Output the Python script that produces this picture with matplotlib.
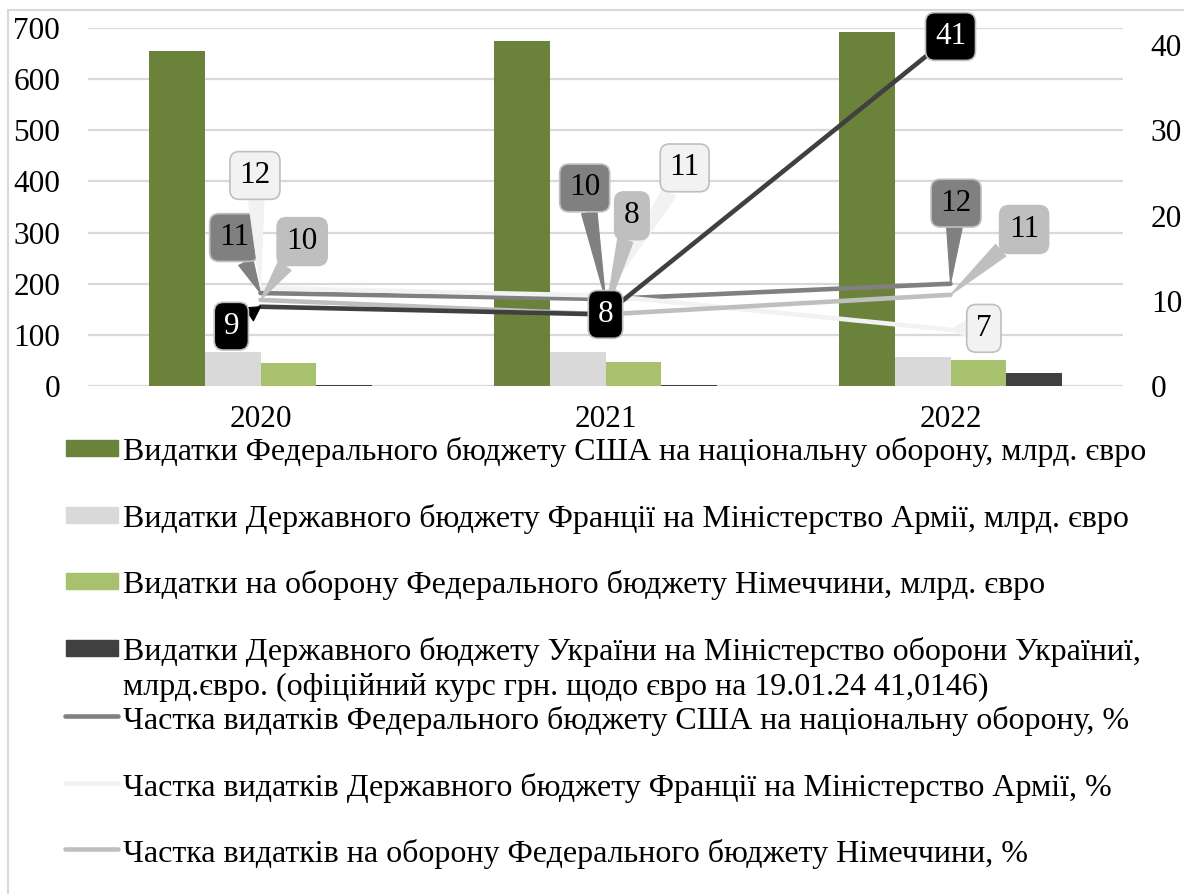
import numpy as np
import matplotlib
matplotlib.use("Agg")
import matplotlib.pyplot as plt
from matplotlib.patches import Rectangle
from matplotlib.lines import Line2D

plt.rcParams['font.family'] = ['Liberation Serif', 'DejaVu Serif']

W, H, DPI = 1184, 894, 100
FS = 22.5
LEG_FS = 23

years = ['2020', '2021', '2022']

# expenditures, bn euro (left axis)
usa_exp = [655, 675, 692]
fra_exp = [67, 67, 57]
ger_exp = [45, 46, 51]
ukr_exp = [2, 2, 26]

# shares, % (right axis)
usa_share = [10.9, 10.2, 12.0]
fra_share = [11.5, 10.6, 6.6]
ger_share = [10.1, 8.4, 10.7]
ukr_share = [9.3, 8.4, 41.0]

bar_labels = [
    'Видатки Федерального бюджету США на національну оборону, млрд. євро',
    'Видатки Державного бюджету Франції на Міністерство Армії, млрд. євро',
    'Видатки на оборону Федерального бюджету Німеччини, млрд. євро',
    'Видатки Державного бюджету України на Міністерство оборони Україниї,\n'
    'млрд.євро. (офіційний курс грн. щодо євро на 19.01.24 41,0146)',
]
line_labels = [
    'Частка видатків Федерального бюджету США на національну оборону, %',
    'Частка видатків Державного бюджету Франції на Міністерство Армії, %',
    'Частка видатків на оборону Федерального бюджету Німеччини, %',
]

bar_colors = ['#6B823B', '#D9D9D9', '#A8C16E', '#404040']
line_colors = ['#808080', '#F2F2F2', '#BFBFBF', '#404040']
grid_color = '#D9D9D9'

fig = plt.figure(figsize=(W / DPI, H / DPI), dpi=DPI)
ax = fig.add_axes([88 / W, 1 - 386 / H, (1123 - 88) / W, (386 - 28) / H])
ax2 = ax.twinx()

x = np.arange(len(years))
bw = 0.162
bars = [usa_exp, fra_exp, ger_exp, ukr_exp]
for i, (vals, c) in enumerate(zip(bars, bar_colors)):
    ax.bar(x + (i - 1.5) * bw, vals, bw, color=c, zorder=2)

ax.set_xlim(-0.5, 2.5)
ax.set_ylim(0, 700)
ax.set_yticks(range(0, 701, 100))
ax.yaxis.grid(True, color=grid_color, lw=1.6, zorder=0)
ax.set_axisbelow(True)
ax.set_xticks(x)
ax.set_xticklabels(years)
ax.tick_params(axis='both', length=0, labelsize=FS)
ax.tick_params(axis='y', pad=20)
ax.tick_params(axis='x', pad=14)

ax2.set_ylim(0, 42)
ax2.set_yticks(range(0, 41, 10))
ax2.tick_params(axis='y', length=0, labelsize=FS, pad=20)
for a in (ax, ax2):
    for s in a.spines.values():
        s.set_visible(False)

shares = [usa_share, fra_share, ger_share, ukr_share]
for vals, c in zip(shares, line_colors):
    ax2.plot(x, vals, color=c, lw=3.3, solid_capstyle='round', zorder=3)

# callout label offsets (points) for each series and year
offsets = [
    [(-19, 40), (-15, 80), (4, 58)],
    [(-4, 81), (57, 92), (24, 1)],
    [(30, 42), (19, 71), (53, 47)],
    [(-21, -14), None, None],
]
text_colors = ['black', 'black', 'black', 'white']
box_fill = ['#808080', '#F2F2F2', '#BFBFBF', 'black']

for s, (vals, offs) in enumerate(zip(shares, offsets)):
    for i, v in enumerate(vals):
        bbox = dict(boxstyle='round,pad=0.3,rounding_size=0.3',
                    fc=box_fill[s], ec='#BFBFBF', lw=1.2)
        lbl = f'{v:.0f}'
        if offs[i] is None:
            ax2.text(x[i], v, lbl, ha='center', va='center', fontsize=FS,
                     color=text_colors[s], bbox=bbox, zorder=6)
        else:
            ax2.annotate(lbl, (x[i], v), xytext=offs[i], textcoords='offset points',
                         ha='center', va='center', fontsize=FS, color=text_colors[s],
                         bbox=bbox, zorder=6,
                         arrowprops=dict(arrowstyle='wedge,tail_width=0.5,shrink_factor=0.5',
                                         fc=box_fill[s], ec=box_fill[s], lw=0.8,
                                         shrinkA=0, shrinkB=0))

# legend laid out by hand (as in the source chart)
def fx(px):
    return px / W

def fy(py):
    return 1 - py / H

patch_centers = [448, 515, 581, 648]
for c, yc, lbl in zip(bar_colors, patch_centers, bar_labels):
    fig.add_artist(Rectangle((fx(66), fy(yc + 8)), fx(118) - fx(66), 16 / H,
                             transform=fig.transFigure, color=c))
    first, *rest = lbl.split('\n')
    fig.text(fx(123), fy(yc + 12), first, fontsize=LEG_FS, va='baseline', ha='left')
    if rest:
        fig.text(fx(123), fy(yc + 47), rest[0], fontsize=LEG_FS, va='baseline', ha='left')

line_centers = [716, 783, 849]
for c, yc, lbl in zip(line_colors, line_centers, line_labels):
    fig.add_artist(Line2D([fx(65), fx(118)], [fy(yc), fy(yc)], transform=fig.transFigure,
                          color=c, lw=3.3, solid_capstyle='round'))
    fig.text(fx(123), fy(yc + 13), lbl, fontsize=LEG_FS, va='baseline', ha='left')

# outer chart frame
fig.add_artist(Rectangle((fx(8), -0.05), 1.2, fy(10) + 0.05, transform=fig.transFigure,
                         fill=False, ec=grid_color, lw=1.5))

fig.savefig('out.png', dpi=DPI)
